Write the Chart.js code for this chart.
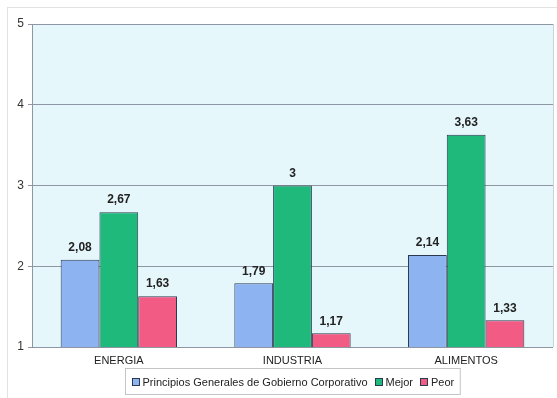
<!DOCTYPE html>
<html>
<head>
<meta charset="utf-8">
<script src="https://cdn.jsdelivr.net/npm/chart.js@4"></script>
<style>
    html, body { margin: 0; padding: 0; background: #fff; }
    #wrap { position: relative; width: 557px; height: 398px; }
    #frame { position: absolute; left: 7px; top: 7px; width: 560px; height: 400px; border-left: 1px solid #e2e2e2; border-top: 1px solid #e2e2e2; }
    canvas { position: absolute; left: 0; top: 0; }
</style>
</head>
<body>
<div id="wrap">
    <div id="frame"></div>
    <canvas id="chart" width="557" height="398"></canvas>
</div>
<script>
// categorias y series
const categories = ['ENERGIA', 'INDUSTRIA', 'ALIMENTOS'];
const seriesNames = ['Principios Generales de Gobierno Corporativo', 'Mejor', 'Peor'];
const principios = [2.08, 1.79, 2.14];
const mejor = [2.67, 3, 3.63];
const peor = [1.63, 1.17, 1.33];
const yTicks = [1, 2, 3, 4, 5];

const colors = ['#8db3f1', '#20b97c', '#f25c84'];
const FONT = 'Arial, "Liberation Sans", sans-serif';

// fondo del area de grafico
const plotBackground = {
    id: 'plotBackground',
    beforeDraw(chart) {
        const { ctx, chartArea: a } = chart;
        ctx.save();
        ctx.fillStyle = '#e6f7fc';
        ctx.fillRect(a.left, a.top, a.right - a.left, a.bottom - a.top);
        ctx.strokeStyle = '#c8d4da';
        ctx.lineWidth = 1;
        ctx.beginPath();
        ctx.moveTo(a.right + 0.5, a.top);
        ctx.lineTo(a.right + 0.5, a.bottom);
        ctx.stroke();
        ctx.restore();
    }
};

// etiquetas de valores sobre las barras
const valueLabels = {
    id: 'valueLabels',
    afterDatasetsDraw(chart) {
        const ctx = chart.ctx;
        ctx.save();
        ctx.font = 'bold 12px ' + FONT;
        ctx.fillStyle = '#222';
        ctx.textAlign = 'center';
        ctx.textBaseline = 'bottom';
        chart.data.datasets.forEach((ds, i) => {
            chart.getDatasetMeta(i).data.forEach((bar, j) => {
                const txt = String(ds.data[j]).replace('.', ',');
                ctx.fillText(txt, bar.x, bar.y - 6);
            });
        });
        ctx.restore();
    }
};

// leyenda con recuadro
const boxedLegend = {
    id: 'boxedLegend',
    afterDraw(chart) {
        const { ctx, chartArea: a } = chart;
        ctx.save();
        ctx.font = '11px ' + FONT;
        const sq = 7, gap = 4, itemGap = 7, padX = 6;
        const widths = seriesNames.map(n => sq + gap + ctx.measureText(n).width);
        const total = widths.reduce((s, w) => s + w, 0) + itemGap * (seriesNames.length - 1);
        const boxW = total + padX * 2;
        const boxH = 26;
        const cx = (a.left + a.right) / 2;
        const boxX = Math.round(cx - boxW / 2) + 0.5;
        const boxY = a.bottom + 21.5;
        ctx.fillStyle = '#fff';
        ctx.fillRect(boxX, boxY, boxW, boxH);
        ctx.strokeStyle = '#c4c4c4';
        ctx.lineWidth = 1;
        ctx.strokeRect(boxX, boxY, boxW, boxH);
        let x = boxX + padX;
        const cy = boxY + boxH / 2;
        seriesNames.forEach((n, i) => {
            ctx.fillStyle = colors[i];
            ctx.fillRect(Math.round(x) + 0.5, Math.round(cy - sq / 2) + 0.5, sq, sq);
            ctx.strokeStyle = '#2a3a50';
            ctx.strokeRect(Math.round(x) + 0.5, Math.round(cy - sq / 2) + 0.5, sq, sq);
            ctx.fillStyle = '#222';
            ctx.textAlign = 'left';
            ctx.textBaseline = 'middle';
            ctx.fillText(n, x + sq + gap, cy + 1);
            x += widths[i] + itemGap;
        });
        ctx.restore();
    }
};

const values = [principios, mejor, peor];

new Chart(document.getElementById('chart'), {
    type: 'bar',
    data: {
        labels: categories,
        datasets: seriesNames.map((name, i) => ({
            label: name,
            data: values[i],
            backgroundColor: colors[i],
            borderColor: '#2a3a50',
            borderWidth: 1,
            categoryPercentage: 0.67,
            barPercentage: 1.0
        }))
    },
    options: {
        responsive: false,
        animation: false,
        layout: { padding: { top: 24, right: 4, bottom: 31, left: 0 } },
        plugins: {
            legend: { display: false },
            tooltip: { enabled: false }
        },
        scales: {
            x: {
                grid: { display: false, drawTicks: false },
                border: { display: false },
                ticks: { color: '#222', font: { family: FONT, size: 11 }, padding: 7 },
                afterFit(scale) { scale.height = 20; }
            },
            y: {
                min: 1,
                max: 5,
                afterBuildTicks(scale) { scale.ticks = yTicks.map(v => ({ value: v })); },
                grid: { color: '#8f96a3', lineWidth: 1, tickLength: 4, drawTicks: true },
                border: { color: '#8f96a3' },
                ticks: { color: '#333', font: { family: FONT, size: 12 }, padding: 4 },
                afterFit(scale) { scale.width = 32; }
            }
        }
    },
    plugins: [plotBackground, valueLabels, boxedLegend]
});
</script>
</body>
</html>
